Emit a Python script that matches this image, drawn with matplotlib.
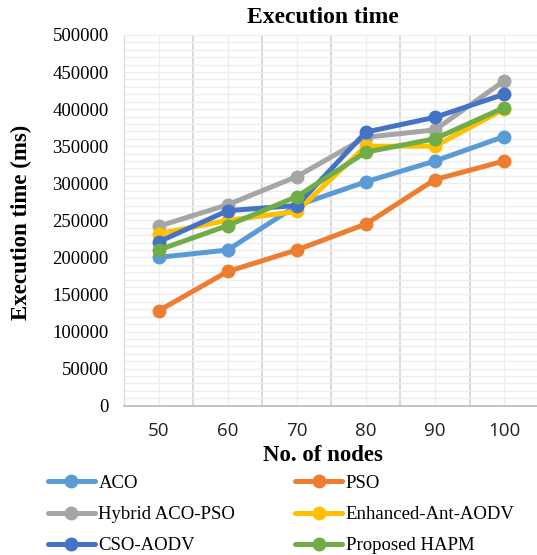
import numpy as np
import matplotlib
matplotlib.use("Agg")
import matplotlib.pyplot as plt
from matplotlib.ticker import MultipleLocator

nodes = ["50", "60", "70", "80", "90", "100"]
aco = [200000, 210000, 270000, 302000, 330000, 363000]
pso = [128000, 181000, 210000, 245000, 305000, 330000]
hybrid = [242000, 271000, 309000, 362000, 372000, 438000]
enhanced = [232000, 250000, 262000, 350000, 350000, 400000]
cso = [221000, 263000, 270000, 369000, 389000, 420000]
hapm = [210000, 243000, 282000, 342000, 360000, 402000]

series = [
    ("ACO", aco, "#5B9BD5"),
    ("PSO", pso, "#ED7D31"),
    ("Hybrid ACO-PSO", hybrid, "#A5A5A5"),
    ("Enhanced-Ant-AODV", enhanced, "#FFC000"),
    ("CSO-AODV", cso, "#4472C4"),
    ("Proposed HAPM", hapm, "#70AD47"),
]

serif = "Liberation Serif"

fig = plt.figure(figsize=(5.37, 5.55), dpi=100)
ax = fig.add_axes([0.231, 0.269, 0.772, 0.668])

x = np.arange(len(nodes))
lines = []
for name, vals, col in series:
    ln, = ax.plot(x, vals, color=col, lw=3.6, marker="o", markersize=9,
                  label=name, solid_capstyle="round", zorder=3)
    lines.append(ln)

ax.set_xlim(-0.5, len(nodes) - 0.5)
ax.set_ylim(0, 500000)
ax.yaxis.set_major_locator(MultipleLocator(50000))
ax.yaxis.set_minor_locator(MultipleLocator(10000))
ax.set_xticks(x)
ax.set_xticklabels(nodes)
ax.set_xticks(np.arange(len(nodes) + 1) - 0.5, minor=True)

ax.grid(which="minor", axis="y", color="#EDEDED", lw=1.0, zorder=0)
ax.grid(which="major", axis="y", color="#EDEDED", lw=1.0, zorder=0)
ax.grid(which="major", axis="x", color="#EDEDED", lw=1.0, zorder=0)
ax.grid(which="minor", axis="x", color="#D6D6D6", lw=1.3, zorder=0)

for s in ["top", "right"]:
    ax.spines[s].set_visible(False)
ax.spines["left"].set_color("#D9D9D9")
ax.spines["bottom"].set_color("#BFBFBF")
ax.spines["bottom"].set_linewidth(1.3)

ax.tick_params(which="both", length=0)
ax.tick_params(axis="y", pad=11, labelsize=13.5)
ax.tick_params(axis="x", pad=12, labelsize=13.5)
for lbl in ax.get_yticklabels():
    lbl.set_fontfamily(serif)
for lbl in ax.get_xticklabels():
    lbl.set_fontfamily("Open Sans")
    lbl.set_color("#222222")

fig.text(0.602, 0.969, "Execution time", ha="center", va="center",
         fontsize=17, fontweight="bold", family=serif)
fig.text(0.602, 0.180, "No. of nodes", ha="center", va="center",
         fontsize=16.5, fontweight="bold", family=serif)
fig.text(0.040, 0.60, "Execution time (ms)", ha="center", va="center",
         rotation=90, fontsize=16.5, fontweight="bold", family=serif)

# legend is filled row by row in the reference
order = [0, 2, 4, 1, 3, 5]
fig.legend([lines[i] for i in order], [series[i][0] for i in order],
           loc="upper left", bbox_to_anchor=(0.075, 0.158), ncol=2,
           frameon=False, handlelength=2.5, handletextpad=0.2,
           columnspacing=3.2, labelspacing=0.75,
           prop={"family": serif, "size": 13.5}, borderaxespad=0)

fig.savefig("out.png", dpi=100)
